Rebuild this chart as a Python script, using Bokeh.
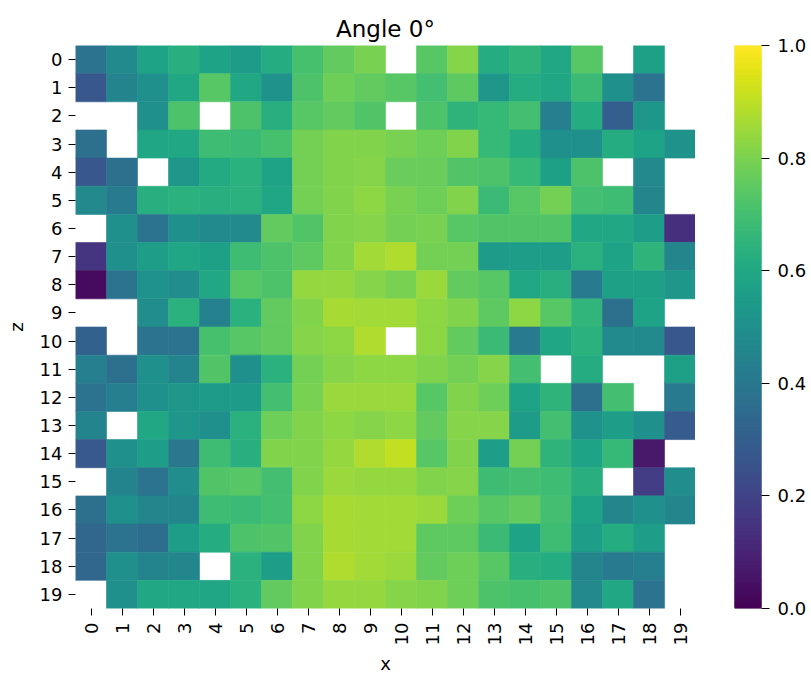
import math
import numpy as np
from bokeh.plotting import figure
from bokeh.models import (LinearColorMapper, ColumnDataSource, FixedTicker,
                          PrintfTickFormatter, Range1d)
from bokeh.transform import transform
from bokeh.palettes import Viridis256
from bokeh.layouts import row
from bokeh.embed import file_html
from bokeh.resources import INLINE

N = None
x_labels = [str(i) for i in range(20)]
z_labels = [str(i) for i in range(20)]
cbar_ticks = [0.0, 0.2, 0.4, 0.6, 0.8, 1.0]

r00 = [0.38, 0.48, 0.58, 0.63, 0.58, 0.55, 0.62, 0.71, 0.76, 0.80, N, 0.74, 0.82, 0.62, 0.65, 0.60, 0.74, N, 0.57, N]
r01 = [0.27, 0.45, 0.50, 0.60, 0.74, 0.60, 0.51, 0.72, 0.78, 0.76, 0.74, 0.70, 0.75, 0.53, 0.62, 0.60, 0.68, 0.50, 0.38, N]
r02 = [N, N, 0.50, 0.72, N, 0.72, 0.63, 0.74, 0.76, 0.73, N, 0.72, 0.65, 0.67, 0.70, 0.43, 0.62, 0.30, 0.53, N]
r03 = [0.37, N, 0.59, 0.60, 0.69, 0.68, 0.71, 0.79, 0.81, 0.81, 0.80, 0.78, 0.81, 0.67, 0.62, 0.50, 0.50, 0.62, 0.58, 0.51]
r04 = [0.27, 0.37, N, 0.53, 0.61, 0.64, 0.58, 0.79, 0.81, 0.82, 0.77, 0.77, 0.73, 0.72, 0.67, 0.57, 0.72, N, 0.47, N]
r05 = [0.47, 0.41, 0.63, 0.64, 0.63, 0.64, 0.59, 0.79, 0.81, 0.83, 0.80, 0.78, 0.81, 0.68, 0.74, 0.79, 0.70, 0.69, 0.46, N]
r06 = [N, 0.50, 0.38, 0.50, 0.48, 0.48, 0.76, 0.73, 0.81, 0.82, 0.79, 0.80, 0.74, 0.73, 0.73, 0.73, 0.60, 0.60, 0.56, 0.14]
r07 = [0.15, 0.50, 0.56, 0.59, 0.57, 0.69, 0.72, 0.75, 0.81, 0.86, 0.88, 0.79, 0.79, 0.55, 0.56, 0.56, 0.64, 0.58, 0.65, 0.46]
r08 = [0.03, 0.38, 0.51, 0.49, 0.60, 0.74, 0.72, 0.84, 0.84, 0.82, 0.80, 0.85, 0.76, 0.74, 0.60, 0.63, 0.41, 0.57, 0.57, 0.53]
r09 = [N, N, 0.49, 0.64, 0.44, 0.64, 0.76, 0.81, 0.87, 0.86, 0.86, 0.83, 0.81, 0.75, 0.83, 0.74, 0.66, 0.37, 0.58, N]
r10 = [0.31, N, 0.38, 0.38, 0.71, 0.74, 0.76, 0.82, 0.83, 0.88, N, 0.83, 0.76, 0.68, 0.41, 0.59, 0.64, 0.48, 0.48, 0.27]
r11 = [0.43, 0.37, 0.50, 0.45, 0.73, 0.50, 0.64, 0.79, 0.82, 0.83, 0.83, 0.81, 0.79, 0.82, 0.70, N, 0.62, N, N, 0.57]
r12 = [0.38, 0.43, 0.50, 0.53, 0.55, 0.55, 0.70, 0.80, 0.85, 0.85, 0.85, 0.74, 0.81, 0.78, 0.58, 0.65, 0.37, 0.70, N, 0.41]
r13 = [0.45, N, 0.60, 0.53, 0.50, 0.64, 0.78, 0.81, 0.83, 0.82, 0.83, 0.76, 0.82, 0.82, 0.55, 0.70, 0.51, 0.56, 0.50, 0.29]
r14 = [0.28, 0.50, 0.56, 0.40, 0.69, 0.63, 0.81, 0.81, 0.84, 0.88, 0.91, 0.74, 0.81, 0.56, 0.79, 0.65, 0.58, 0.67, 0.07, N]
r15 = [N, 0.45, 0.38, 0.49, 0.73, 0.74, 0.70, 0.81, 0.85, 0.84, 0.84, 0.81, 0.82, 0.69, 0.70, 0.69, 0.63, N, 0.18, 0.49]
r16 = [0.37, 0.50, 0.46, 0.46, 0.69, 0.68, 0.70, 0.83, 0.87, 0.86, 0.86, 0.85, 0.78, 0.74, 0.76, 0.70, 0.58, 0.46, 0.50, 0.46]
r17 = [0.33, 0.38, 0.36, 0.56, 0.62, 0.72, 0.73, 0.81, 0.87, 0.86, 0.86, 0.75, 0.75, 0.68, 0.58, 0.69, 0.56, 0.62, 0.56, N]
r18 = [0.33, 0.50, 0.45, 0.46, N, 0.64, 0.56, 0.81, 0.88, 0.86, 0.85, 0.76, 0.78, 0.74, 0.63, 0.62, 0.46, 0.41, 0.43, N]
r19 = [N, 0.50, 0.60, 0.60, 0.59, 0.64, 0.76, 0.81, 0.84, 0.84, 0.82, 0.81, 0.78, 0.72, 0.71, 0.72, 0.47, 0.60, 0.38, N]

rows = [r00, r01, r02, r03, r04, r05, r06, r07, r08, r09,
        r10, r11, r12, r13, r14, r15, r16, r17, r18, r19]

xs, zs, vs = [], [], []
for zi, r in enumerate(rows):
    for xi, v in enumerate(r):
        if v is None:
            continue
        xs.append(x_labels[xi])
        zs.append(z_labels[zi])
        vs.append(v)

FONT = "DejaVu Sans"
mapper = LinearColorMapper(palette=Viridis256, low=0.0, high=1.0)
src = ColumnDataSource(dict(x=xs, z=zs, v=vs))

p = figure(x_range=x_labels, y_range=list(reversed(z_labels)),
           frame_width=620, frame_height=563,
           min_border_left=75, min_border_right=0, min_border_top=45, min_border_bottom=69,
           output_backend="svg", toolbar_location=None, title="Angle 0°")
p.rect(x="x", y="z", width=1, height=1, source=src,
       fill_color=transform("v", mapper), line_color=transform("v", mapper), line_width=0.6)

p.title.align = "center"
p.title.text_font = FONT
p.title.text_font_size = "23px"
p.title.text_font_style = "normal"
p.title.text_color = "black"
p.title.standoff = 8

p.outline_line_color = None
p.grid.visible = False
p.background_fill_color = "white"
p.border_fill_color = "white"

for ax in (p.xaxis[0], p.yaxis[0]):
    ax.axis_line_color = None
    ax.major_tick_out = 7
    ax.major_tick_in = 0
    ax.major_tick_line_color = "black"
    ax.major_tick_line_width = 1
    ax.major_label_text_font = FONT
    ax.major_label_text_font_size = "18px"
    ax.major_label_text_color = "black"
    ax.axis_label_text_font = FONT
    ax.axis_label_text_font_size = "18px"
    ax.axis_label_text_font_style = "normal"
    ax.axis_label_text_color = "black"

p.xaxis.axis_label = "x"
p.yaxis.axis_label = "z"
p.xaxis.major_label_orientation = math.pi / 2
p.xaxis.major_label_standoff = 7
p.yaxis.major_label_standoff = 6
p.xaxis.axis_label_standoff = 5
p.yaxis.axis_label_standoff = 10

# colour bar
edges = np.linspace(0.0, 1.0, 257)
cb_src = ColumnDataSource(dict(bottom=edges[:-1], top=edges[1:], mid=(edges[:-1] + edges[1:]) / 2))
cb = figure(x_range=Range1d(0, 1), y_range=Range1d(0, 1),
            frame_width=27, frame_height=563,
            min_border_left=39, min_border_right=50, min_border_top=45, min_border_bottom=69,
            x_axis_location=None, y_axis_location="right",
            output_backend="svg", toolbar_location=None)
cb.quad(left=0, right=1, bottom="bottom", top="top", source=cb_src,
        fill_color=transform("mid", mapper), line_color=transform("mid", mapper), line_width=2)
cb.outline_line_color = None
cb.grid.visible = False
cax = cb.yaxis[0]
cax.ticker = FixedTicker(ticks=cbar_ticks)
cax.formatter = PrintfTickFormatter(format="%.1f")
cax.axis_line_color = None
cax.minor_tick_line_color = None
cax.major_tick_out = 8
cax.major_tick_in = 0
cax.major_tick_line_color = "black"
cax.major_tick_line_width = 1
cax.major_label_standoff = 8
cax.major_label_text_font = FONT
cax.major_label_text_font_size = "18px"
cax.major_label_text_color = "black"

layout = row(p, cb)
open("out.html", "w").write(file_html(layout, INLINE))
